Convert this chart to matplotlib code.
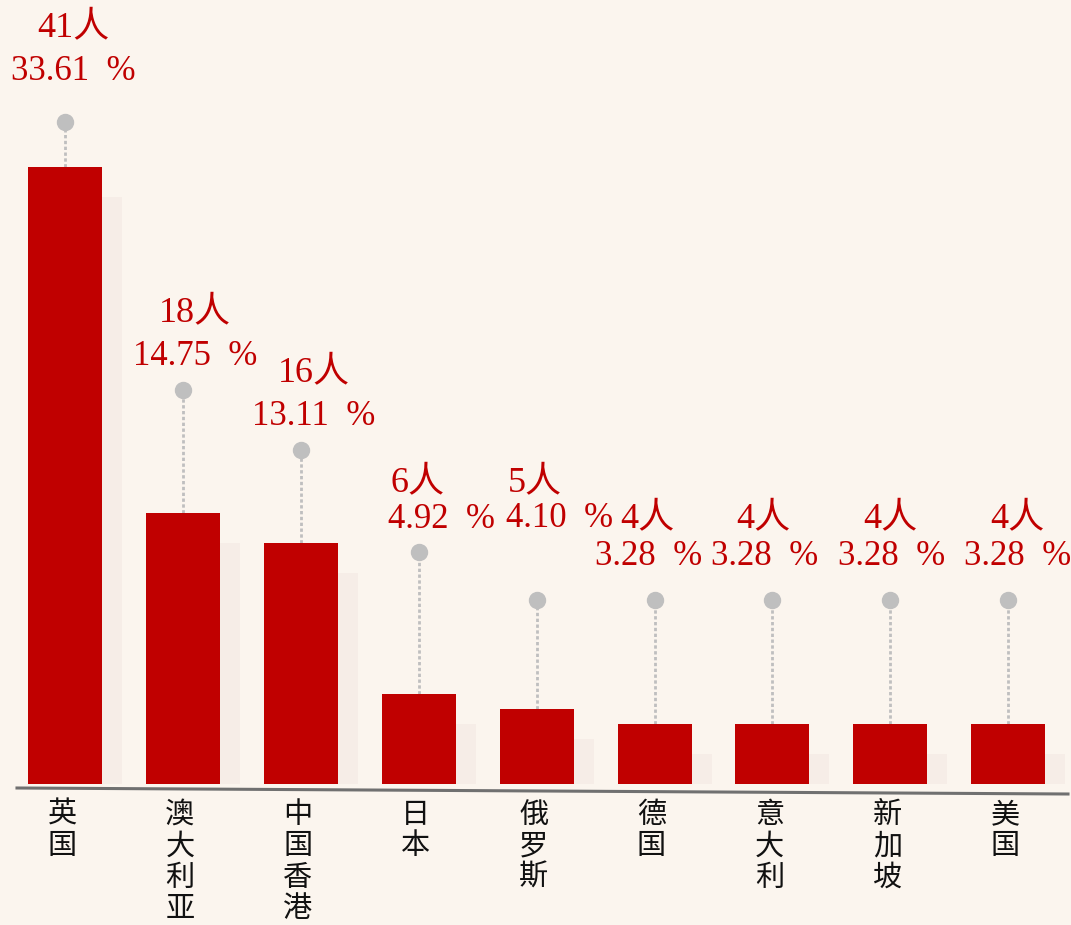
import matplotlib
matplotlib.use('Agg')
import matplotlib.pyplot as plt
from matplotlib.patches import Rectangle

# data
countries = ['英国', '澳大利亚', '中国香港', '日本', '俄罗斯', '德国', '意大利', '新加坡', '美国']
counts = [41, 18, 16, 6, 5, 4, 4, 4, 4]
percents = [33.61, 14.75, 13.11, 4.92, 4.10, 3.28, 3.28, 3.28, 3.28]

RED = '#C00000'
GREY = '#BFBFBF'
BG = '#FBF5EE'
GHOST = '#F6EDE7'

# layout: height of the grey dot (data units) and label offsets in pixels
stem_top = [44.0, 26.2, 22.2, 15.4, 12.2, 12.2, 12.2, 12.2, 12.2]
count_off = [(8, 94), (12, 77), (13, 77), (-1, 69), (-2, 118), (-7, 82), (-9, 82), (0, 82), (9, 82)]
pct_off = [(8, 50), (12, 33), (13, 33), (23, 33), (23, 82), (-6, 44), (-8, 44), (1, 44), (9, 44)]

W, H = 1071, 925
PX_UNIT = 15.05   # pixels per person
STEP = 117.9      # pixels between bars
X0 = 65           # first bar centre
BASE = 784        # baseline, pixels from top

fig = plt.figure(figsize=(W / 100, H / 100), dpi=100)
fig.patch.set_facecolor(BG)
ax = fig.add_axes([0, (H - BASE) / H, 1, BASE / H])
ax.set_facecolor(BG)
ax.set_xlim(-X0 / STEP, (W - X0) / STEP)
ax.set_ylim(0, BASE / PX_UNIT)
ax.axis('off')

x = list(range(len(countries)))
bw = 74 / STEP

# faint shadow bars behind the red ones
for i, c in enumerate(counts):
    ax.add_patch(Rectangle((i - bw / 2 + 20 / STEP, 0), bw, c - 2, color=GHOST, zorder=1, lw=0))

ax.bar(x, counts, width=bw, color=RED, zorder=3)

# dotted stems with grey dots
for i, c in enumerate(counts):
    ax.plot([i, i], [c, stem_top[i]], color=GREY, lw=2.0, ls=(0, (1.2, 0.9)), zorder=2)
ax.scatter(x, stem_top, s=16 ** 2 * 0.72 ** 2, color=GREY, zorder=4, clip_on=False)

serif = ['Liberation Serif', 'Noto Sans CJK SC']
for i, (c, p) in enumerate(zip(counts, percents)):
    ax.annotate(f'{c}人', (i, stem_top[i]), xytext=(count_off[i][0], count_off[i][1]),
                textcoords='offset pixels', ha='center', va='center',
                fontsize=26, color=RED, family=serif, annotation_clip=False)
    ax.annotate(f'{p:.2f}  %', (i, stem_top[i]), xytext=(pct_off[i][0], pct_off[i][1]),
                textcoords='offset pixels', ha='center', va='center',
                fontsize=25, color=RED, family=serif, annotation_clip=False)

# slightly slanted baseline
ax.plot([(17 - X0) / STEP, (1068 - X0) / STEP], [-(788 - BASE) / PX_UNIT, -(794 - BASE) / PX_UNIT],
        color='#707070', lw=2.2, clip_on=False, zorder=5)

# vertical category labels
for i, name in enumerate(countries):
    for j, ch in enumerate(name):
        ax.annotate(ch, (i, 0), xytext=(-3, -(815 - BASE) - 31.3 * j),
                    textcoords='offset pixels', ha='center', va='center',
                    fontsize=21, color='#111111', family=['Noto Sans CJK SC'],
                    annotation_clip=False)

fig.savefig('out.png', dpi=100, facecolor=BG)
